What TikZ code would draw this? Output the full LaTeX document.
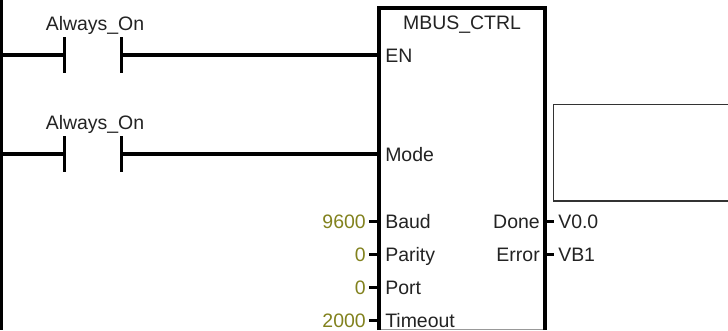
\documentclass[tikz,border=0pt]{standalone}
\usepackage{fontspec}
\setmainfont{Liberation Sans}
\definecolor{olivetxt}{RGB}{130,130,30}
\definecolor{inktxt}{RGB}{35,35,35}
\tikzset{
  x=0.75pt,y=-0.75pt,
  wire/.style={line width=2.4pt,black},
  stub/.style={line width=2.25pt,black},
  thinbox/.style={line width=1.1pt,black!80},
  lbl/.style={inner sep=0pt,font=\fontsize{14.6}{16}\selectfont,text=inktxt},
  lblw/.style={lbl,anchor=base west},
  lble/.style={lbl,anchor=base east},
  valr/.style={lble,text=olivetxt},
  contactname/.style={lbl,anchor=base},
}
\begin{document}
\begin{tikzpicture}
\useasboundingbox (0,0) rectangle (728,330);
\fill[white] (0,0) rectangle (728,330);
% power rail
\coordinate (railtop) at (1,0);
\coordinate (railbot) at (1,330);
\draw[wire] (railtop) -- (railbot);
% block
\coordinate (bTL) at (379,8);
\coordinate (bTR) at (545,8);
\coordinate (bBL) at (379,330);
\coordinate (bBR) at (545,330);
\draw[line width=0.6pt,black!40] (378,329.3) -- (546,329.3);
\draw[wire,line cap=butt] (bBL) -- (bTL) -- (bTR) -- (bBR);
\node[lbl,anchor=base] (title) at (462,29) {MBUS\_CTRL};
% rung 1
\coordinate (r1) at (1,55);
\coordinate (c1l) at (64.5,55);
\coordinate (c1r) at (121.5,55);
\coordinate (c1lt) at (64.5,37);
\coordinate (c1lb) at (64.5,73);
\coordinate (c1rt) at (121.5,37);
\coordinate (c1rb) at (121.5,73);
\coordinate (en) at (379,55);
\draw[wire] (r1) -- (c1l);
\draw[wire] (c1lt) -- (c1lb);
\draw[wire] (c1rt) -- (c1rb);
\draw[wire] (c1r) -- (en);
\node[contactname] (a1) at (95,30) {Always\_On};
% rung 2
\coordinate (r2) at (1,154);
\coordinate (c2l) at (64.5,154);
\coordinate (c2r) at (121.5,154);
\coordinate (c2lt) at (64.5,136);
\coordinate (c2lb) at (64.5,172);
\coordinate (c2rt) at (121.5,136);
\coordinate (c2rb) at (121.5,172);
\coordinate (mode) at (379,154);
\draw[wire] (r2) -- (c2l);
\draw[wire] (c2lt) -- (c2lb);
\draw[wire] (c2rt) -- (c2rb);
\draw[wire] (c2r) -- (mode);
\node[contactname] (a2) at (95,129) {Always\_On};
% pin labels
\node[lblw] (pEN) at (385,62) {EN};
\node[lblw] (pMode) at (385,161.5) {Mode};
\node[lblw] (pBaud) at (385,228) {Baud};
\node[lblw] (pParity) at (385,261) {Parity};
\node[lblw] (pPort) at (385,294) {Port};
\node[lblw] (pTimeout) at (385,327) {Timeout};
\node[lble] (pDone) at (540,228) {Done};
\node[lble] (pError) at (540,261) {Error};
% values
\node[valr] (v1) at (366,228) {9600};
\node[valr] (v2) at (366,261) {0};
\node[valr] (v3) at (366,294) {0};
\node[valr] (v4) at (366,327) {2000};
\node[lblw] (o1) at (558,228) {V0.0};
\node[lblw] (o2) at (558,261) {VB1};
% stubs
\foreach \yy in {221,254,287,320} \draw[stub] (369,\yy) -- (379,\yy);
\foreach \yy in {221,254} \draw[stub] (545,\yy) -- (554,\yy);
% empty box
\draw[thinbox] (728,104.5) -- (553.5,104.5) -- (553.5,201) -- (728,201);
\end{tikzpicture}
\end{document}
